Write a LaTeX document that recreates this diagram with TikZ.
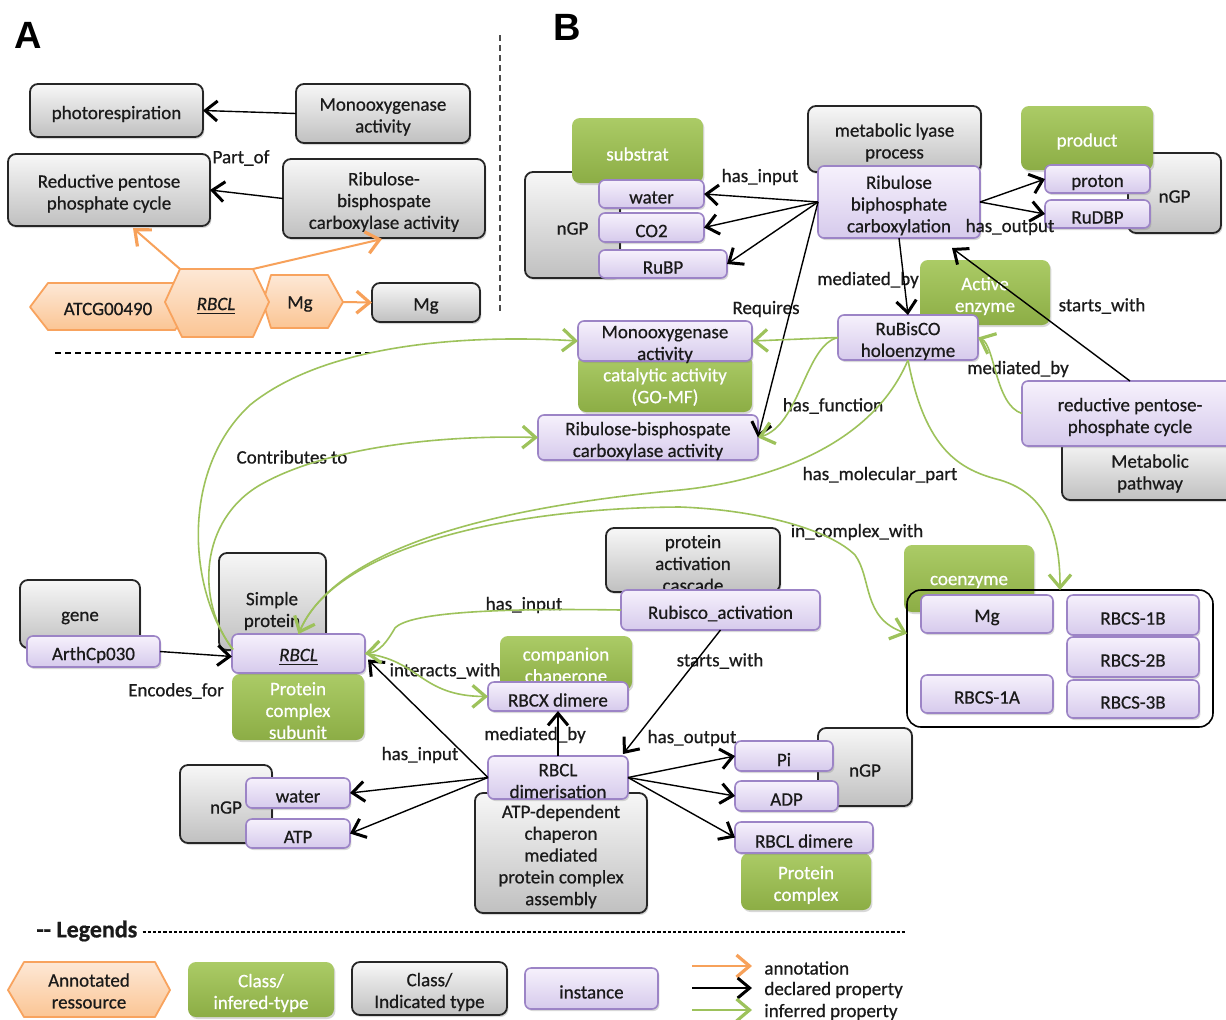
\documentclass[tikz,border=0pt]{standalone}
\usepackage{fontspec}
\setmainfont{Carlito}[FakeBold=0.6]
\newfontfamily\hfont{Liberation Sans}
\usetikzlibrary{arrows.meta,shadows,calc}
\definecolor{clstop}{HTML}{F7F7F7}
\definecolor{clsbot}{HTML}{C0C0C0}
\definecolor{clsbd}{HTML}{262626}
\definecolor{inftop}{HTML}{ABCB66}
\definecolor{infbot}{HTML}{8CAD45}
\definecolor{insttop}{HTML}{F6F1FC}
\definecolor{instbot}{HTML}{D6CAEC}
\definecolor{instbd}{HTML}{9C84C6}
\definecolor{orgtop}{HTML}{FDE8D6}
\definecolor{orgbot}{HTML}{FBC594}
\definecolor{orgbd}{HTML}{F8A35E}
\definecolor{grnln}{HTML}{9DC25B}
\definecolor{orgln}{HTML}{F7A15A}
\definecolor{txt}{HTML}{1A1A1A}
% box: name, style, x1, y1, x2, y2, text (text set 1.75pt below the centre)
\newcommand{\mkbox}[7]{%
  \pgfmathsetmacro{\mkw}{(#5-#3)/2}%
  \pgfmathsetmacro{\mkh}{(#6-#4)/2}%
  \node[#2, minimum width=\mkw pt, minimum height=\mkh pt] (#1) at ({(#3+#5)/2},{(#4+#6)/2}) {};%
  \node[#2txt] (#1t) at ([yshift=-1.75pt]#1.center) {#7};%
}
\begin{document}
\begin{tikzpicture}[x=0.5pt,y=-0.5pt,
  font=\fontsize{9.5}{10.9}\selectfont, text=txt,
  shd/.style={drop shadow={shadow xshift=0.7pt,shadow yshift=-1pt,opacity=0.3}},
  cls/.style={draw=clsbd, line width=0.9pt, rounded corners=4pt, top color=clstop, bottom color=clsbot, inner sep=0pt, outer sep=0pt, shd},
  clstxt/.style={align=center, inner sep=0pt},
  inf/.style={rounded corners=4pt, top color=inftop, bottom color=infbot, inner sep=0pt, outer sep=0pt, shd},
  inftxt/.style={align=center, inner sep=0pt, text=white},
  inst/.style={draw=instbd, line width=0.8pt, rounded corners=3pt, top color=insttop, bottom color=instbot, inner sep=0pt, outer sep=0pt, shd},
  insttxt/.style={align=center, inner sep=0pt},
  grp/.style={draw=black, line width=0.8pt, rounded corners=7pt, inner sep=0pt, outer sep=0pt},
  grptxt/.style={inner sep=0pt},
  hexst/.style={draw=orgbd, line width=0.9pt, top color=orgtop, bottom color=orgbot, line join=round},
  lbl/.style={inner sep=0.5pt, yshift=-1pt},
  blk/.style={draw=black, line width=0.7pt, -{Straight Barb[length=6pt,width=10pt,line width=1.5pt]}},
  grn/.style={draw=grnln, line width=0.8pt, -{Straight Barb[length=6.5pt,width=11pt,line width=1.6pt]}},
  org/.style={draw=orgln, line width=1pt, -{Straight Barb[length=6.5pt,width=11pt,line width=1.6pt]}}
]
\useasboundingbox[fill=white] (0,0) rectangle (1226,1019);

% ---------- Panel labels and separators
\node[font=\hfont\bfseries\fontsize{19}{19}\selectfont, text=black] (labA) at (28,35) {A};
\node[font=\hfont\bfseries\fontsize{19}{19}\selectfont, text=black] (labB) at (567,27) {B};
\draw[line width=0.8pt, dash pattern=on 3pt off 2pt, draw=black!70] (500,35) coordinate (vs1) -- (500,312) coordinate (vs2);
\draw[line width=0.8pt, dash pattern=on 3pt off 2pt] (55,353) coordinate (hs1) -- (370,353) coordinate (hs2);

% ---------- Panel A
\mkbox{photo}{cls}{30}{84}{203}{137}{photorespiration}
\mkbox{monoA}{cls}{296}{84}{470}{143}{Monooxygenase\\activity}
\mkbox{redA}{cls}{8}{154}{210}{226}{Reductive pentose\\phosphate cycle}
\mkbox{ribA}{cls}{283}{159}{485}{238}{Ribulose-\\bisphospate\\carboxylase activity}
\mkbox{mgA}{cls}{372}{283}{480}{322}{Mg}

\filldraw[hexst] (30,307) -- (48,283) -- (175,283) -- (192,307) -- (175,330) -- (48,330) -- cycle;
\node[lbl] (atcg) at (108,307) {ATCG00490};
\filldraw[hexst] (263,302) -- (271,275) -- (328,275) -- (343,302) coordinate (mhr) -- (328,328) -- (271,328) -- cycle;
\node[lbl] (mghex) at (300,302) {Mg};
\filldraw[hexst] (165,302) -- (180,269) coordinate (rhtl) -- (253,269) coordinate (rhtr) -- (269,302) -- (253,337) -- (182,337) -- cycle;
\node[lbl] (rbclhex) at (216,304) {\itshape\underline{RBCL}};

\draw[blk] (monoA.west) -- (photo.east);
\draw[blk] (ribA.west) -- (redA.east);
\node[lbl] (lpart) at (241,156) {Part\_of};
\draw[org] (rhtl) -- ($(redA.south)+(24,2)$);
\draw[org] (rhtr) -- ($(ribA.south)+(-2,1)$);
\draw[org] (mhr) -- (mgA.west);

% ---------- Panel B: class and inferred-type boxes
\mkbox{ngp1}{cls}{525}{172}{620}{278}{nGP}
\mkbox{substrat}{inf}{572}{118}{703}{183}{substrat}
\mkbox{lyase}{cls}{808}{106}{981}{172}{metabolic lyase\\process}
\mkbox{ngp2}{cls}{1128}{153}{1221}{233}{nGP}
\mkbox{product}{inf}{1021}{106}{1153}{170}{product}
\mkbox{active}{inf}{920}{260}{1050}{325}{Active\\enzyme}
\mkbox{catalytic}{inf}{578}{355}{752}{412}{catalytic activity\\(GO-MF)}
\mkbox{metpath}{cls}{1062}{440}{1238}{500}{Metabolic\\pathway}
\mkbox{cascade}{cls}{606}{528}{780}{592}{protein\\activation\\cascade}
\mkbox{coenzyme}{inf}{904}{545}{1034}{612}{coenzyme}
\mkbox{gene}{cls}{20}{580}{140}{648}{}
\node[lbl] (genet) at (80,616) {gene};
\mkbox{simple}{cls}{219}{553}{326}{650}{}
\node[lbl, align=center] (simplet) at (272,609) {Simple\\protein};
\mkbox{pcsub}{inf}{232}{674}{364}{740}{Protein\\complex\\subunit}
\mkbox{companion}{inf}{500}{636}{632}{690}{companion\\chaperone}
\mkbox{atpdep}{cls}{475}{793}{647}{913}{ATP-dependent\\chaperon\\mediated\\protein complex\\assembly}
\mkbox{ngp3}{cls}{180}{765}{272}{843}{nGP}
\mkbox{ngp4}{cls}{818}{728}{912}{806}{nGP}
\mkbox{pcomplex}{inf}{741}{853}{871}{910}{Protein\\complex}
\mkbox{cplx}{grp}{907}{590}{1213}{727}{}

% ---------- instances
\mkbox{water1}{inst}{599}{180}{704}{208}{water}
\mkbox{co2}{inst}{599}{213}{704}{242}{CO2}
\mkbox{rubp}{inst}{599}{250}{727}{278}{RuBP}
\mkbox{carb}{inst}{818}{166}{980}{238}{Ribulose\\biphosphate\\carboxylation}
\mkbox{proton}{inst}{1045}{165}{1150}{193}{proton}
\mkbox{rudbp}{inst}{1045}{200}{1150}{228}{RuDBP}
\mkbox{rubisco}{inst}{838}{315}{978}{360}{RuBisCO\\holoenzyme}
\mkbox{mono}{inst}{578}{321}{752}{361}{Monooxygenase\\activity}
\mkbox{ribact}{inst}{538}{415}{758}{460}{Ribulose-bisphospate\\carboxylase activity}
\mkbox{redpc}{inst}{1022}{381}{1238}{446}{reductive pentose-\\phosphate cycle}
\mkbox{rubact}{inst}{621}{590}{820}{630}{Rubisco\_activation}
\mkbox{mg}{inst}{921}{595}{1053}{633}{Mg}
\mkbox{rbcs1b}{inst}{1067}{595}{1199}{635}{RBCS-1B}
\mkbox{rbcs2b}{inst}{1067}{637}{1199}{677}{RBCS-2B}
\mkbox{rbcs1a}{inst}{921}{675}{1053}{713}{RBCS-1A}
\mkbox{rbcs3b}{inst}{1067}{680}{1199}{718}{RBCS-3B}
\mkbox{arth}{inst}{27}{636}{160}{667}{ArthCp030}
\mkbox{rbcl}{inst}{232}{634}{365}{673}{\itshape\underline{RBCL}}
\mkbox{rbcx}{inst}{488}{682}{628}{711}{RBCX dimere}
\mkbox{rbcldim}{inst}{488}{756}{628}{799}{RBCL\\dimerisation}
\mkbox{water2}{inst}{246}{778}{350}{808}{water}
\mkbox{atp}{inst}{246}{819}{350}{848}{ATP}
\mkbox{pi}{inst}{735}{741}{833}{771}{Pi}
\mkbox{adp}{inst}{735}{781}{838}{811}{ADP}
\mkbox{rbcldimere}{inst}{735}{822}{873}{853}{RBCL dimere}

% ---------- edge labels
\node[lbl] (l1) at (760,175) {has\_input};
\node[lbl] (l2) at (1010,225) {has\_output};
\node[lbl] (l3) at (868,278) {mediated\_by};
\node[lbl] (l4) at (766,307) {Requires};
\node[lbl] (l5) at (1102,304) {starts\_with};
\node[lbl] (l6) at (1018,367) {mediated\_by};
\node[lbl] (l7) at (833,404) {has\_function};
\node[lbl] (l8) at (292,455) {Contributes to};
\node[lbl] (l9) at (880,473) {has\_molecular\_part};
\node[lbl] (l10) at (857,530) {in\_complex\_with};
\node[lbl] (l11) at (524,603) {has\_input};
\node[lbl] (l12) at (720,659) {starts\_with};
\node[lbl] (l13) at (445,669) {interacts\_with};
\node[lbl] (l14) at (176,689) {Encodes\_for};
\node[lbl] (l15) at (535,733) {mediated\_by};
\node[lbl] (l16) at (420,753) {has\_input};
\node[lbl] (l17) at (692,736) {has\_output};

% ---------- black edges
\draw[blk] (carb.west) -- (water1.east);
\draw[blk] (carb.west) -- (co2.east);
\draw[blk] (carb.west) -- (rubp.east);
\draw[blk] (carb.east) -- (proton.west);
\draw[blk] (carb.east) -- (rudbp.west);
\draw[blk] (carb.south) -- (rubisco.north);
\draw[blk] (carb.west) -- (ribact.east);
\draw[blk] (redpc.north) -- ($(carb.south)+(53,10)$);
\draw[blk] (arth.east) -- ($(rbcl.west)+(0,3)$);
\draw[blk] (rbcldim.west) -- ($(rbcl.east)+(3,6)$);
\draw[blk] (rbcldim.west) -- (water2.east);
\draw[blk] (rbcldim.west) -- (atp.east);
\draw[blk] (rbcldim.north) -- (rbcx.south);
\draw[blk] (rubact.south) -- ($(rbcldim.north east)+(-5,-2)$);
\draw[blk] (rbcldim.east) -- (pi.west);
\draw[blk] (rbcldim.east) -- (adp.west);
\draw[blk] (rbcldim.east) -- (rbcldimere.west);

% ---------- green edges
\draw[grn] (rubisco.west) -- (mono.east);
\draw[grn] (rubisco.west) .. controls (805,345) and (800,425) .. (ribact.east);
\draw[grn] (redpc.west) .. controls (995,405) and (995,345) .. (rubisco.east);
\draw[grn] (rubisco.south) .. controls (925,450) and (960,470) .. (1000,480) .. controls (1050,495) and (1060,540) .. (cplx.north);
\draw[grn] (rubisco.south) .. controls (870,450) and (760,482) .. (680,490) .. controls (520,505) and (340,540) .. (rbcl.north);
\draw[grn] (rbcl.north) .. controls (330,550) and (500,508) .. (680,507) .. controls (760,510) and (830,530) .. (855,555) .. controls (872,578) and (862,618) .. ($(cplx.west)+(0,-25)$);
\draw[grn] ($(rbcl.west)+(1,-4)$) .. controls (188,590) and (180,470) .. (250,405) .. controls (330,340) and (480,335) .. (mono.west);
\draw[grn] ($(rbcl.west)+(1,-4)$) .. controls (195,600) and (200,520) .. (260,485) .. controls (330,445) and (450,435) .. (ribact.west);
\draw[grn] (rubact.west) .. controls (500,608) and (410,612) .. (395,628) .. controls (388,640) and (380,652) .. (rbcl.east);
\draw[grn] (rbcl.east) .. controls (420,660) and (420,696) .. (rbcx.west);

% ---------- legend
\node[anchor=west, font=\fontsize{12}{12}\selectfont\bfseries, inner sep=0pt] (leg) at (36,931) {-{}- Legends};
\draw[line width=0.8pt, dash pattern=on 1.6pt off 1pt] ($(leg.east)+(5,1)$) coordinate (ld1) -- (905,932) coordinate (ld2);
\filldraw[hexst] (8,990) -- (24,962) -- (155,962) -- (170,990) -- (155,1017) -- (24,1017) -- cycle;
\node[lbl, align=center] (legann) at (89,989) {Annotated\\ressource};
\mkbox{leginf}{inf}{188}{962}{334}{1017}{Class/\\infered-type}
\mkbox{legcls}{cls}{352}{962}{507}{1015}{Class/\\Indicated type}
\mkbox{leginst}{inst}{525}{968}{658}{1009}{instance}
\coordinate (la1) at (692,966); \coordinate (lb1) at (752,966);
\coordinate (la2) at (692,988); \coordinate (lb2) at (752,988);
\coordinate (la3) at (692,1010); \coordinate (lb3) at (752,1010);
\draw[org] (la1) -- (lb1);
\draw[blk] (la2) -- (lb2);
\draw[grn] (la3) -- (lb3);
\node[anchor=west, lbl] (lt1) at (763,966) {annotation};
\node[anchor=west, lbl] (lt2) at (763,988) {declared property};
\node[anchor=west, lbl] (lt3) at (763,1010) {inferred property};
\end{tikzpicture}
\end{document}
